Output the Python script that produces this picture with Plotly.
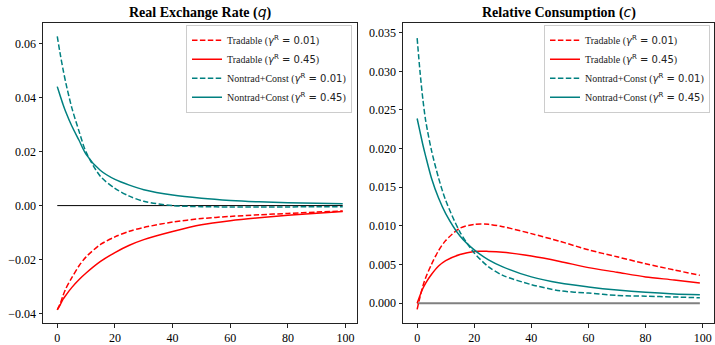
import plotly.graph_objects as go

# ---------------- data ----------------
t_grid = [0, 1, 2, 3, 5, 7.5, 10, 15, 20, 25, 30, 40, 50, 60, 70, 80, 90, 99]

# Real exchange rate (q)
q_trad_001 = [-0.0386, -0.0364, -0.0333, -0.0307, -0.0268, -0.0224, -0.0190, -0.0144, -0.0116,
              -0.0095, -0.0081, -0.0061, -0.0048, -0.0040, -0.0034, -0.0029, -0.0024, -0.0020]
q_trad_045 = [-0.0386, -0.0368, -0.0347, -0.0332, -0.0304, -0.0275, -0.0250, -0.0207, -0.0174,
              -0.0147, -0.0126, -0.0096, -0.0071, -0.0056, -0.0045, -0.0036, -0.0028, -0.0022]
q_nt_001 = [0.0627, 0.0563, 0.0505, 0.0453, 0.0364, 0.0277, 0.0198, 0.0108, 0.0064,
            0.0035, 0.0016, 0.0000, -0.0004, -0.0005, -0.0005, -0.0005, -0.0004, -0.0004]
q_nt_045 = [0.0441, 0.0407, 0.0375, 0.0346, 0.0296, 0.0243, 0.0190, 0.0130, 0.0097,
            0.0076, 0.0059, 0.0039, 0.0027, 0.0019, 0.0014, 0.0011, 0.0009, 0.0007]

# Relative consumption (c)
c_trad_001 = [-0.0008, 0.0008, 0.0022, 0.0033, 0.0050, 0.0068, 0.0081, 0.0097, 0.0102,
              0.0102, 0.0099, 0.0090, 0.0080, 0.0069, 0.0060, 0.0051, 0.0043, 0.0036]
c_trad_045 = [0.0000, 0.0010, 0.0019, 0.0026, 0.0037, 0.0048, 0.0055, 0.0063, 0.0067,
              0.0067, 0.0066, 0.0061, 0.0054, 0.0046, 0.0040, 0.0034, 0.0030, 0.0026]
c_nt_001 = [0.0343, 0.0300, 0.0264, 0.0236, 0.0198, 0.0162, 0.0133, 0.0092, 0.0065,
            0.0047, 0.0036, 0.0024, 0.0016, 0.0013, 0.0010, 0.0009, 0.0008, 0.0007]
c_nt_045 = [0.0239, 0.0222, 0.0205, 0.0190, 0.0162, 0.0136, 0.0116, 0.0087, 0.0069,
            0.0056, 0.0047, 0.0034, 0.0026, 0.0021, 0.0017, 0.0014, 0.0012, 0.0011]

zero_x = [0, 99]
zero_y = [0, 0]

labels = ["Tradable (", "Tradable (", "Nontrad+Const (", "Nontrad+Const ("]
gammas = ["0.01", "0.45", "0.01", "0.45"]

x_ticks = [0, 20, 40, 60, 80, 100]
q_ticks = [-0.04, -0.02, 0.00, 0.02, 0.04, 0.06]
c_ticks = [0.000, 0.005, 0.010, 0.015, 0.020, 0.025, 0.030, 0.035]

# ---------------- style ----------------
RED = "#ff0000"
TEAL = "#008080"
SERIF = "Liberation Serif"
MATH = "DejaVu Sans"
styles = [(RED, "5.5px,2.4px"), (RED, "solid"), (TEAL, "5.5px,2.4px"), (TEAL, "solid")]


def leg_name(lbl, g):
    return (f"{lbl}<span style='font-family:{MATH}'><i>γ</i><sup>R</sup> = {g}</span>)")


fig = go.Figure()

for panel, series, xa, ya, leg in [
    (0, [q_trad_001, q_trad_045, q_nt_001, q_nt_045], "x", "y", "legend"),
    (1, [c_trad_001, c_trad_045, c_nt_001, c_nt_045], "x2", "y2", "legend2"),
]:
    zc, zw = ("#000000", 1.0) if panel == 0 else ("#808080", 2.0)
    fig.add_trace(go.Scatter(x=zero_x, y=zero_y, mode="lines", xaxis=xa, yaxis=ya,
                             line=dict(color=zc, width=zw), showlegend=False, hoverinfo="skip"))
    for i, s in enumerate(series):
        col, dash = styles[i]
        fig.add_trace(go.Scatter(x=t_grid, y=s, mode="lines", xaxis=xa, yaxis=ya,
                                 name=leg_name(labels[i], gammas[i]), legend=leg,
                                 line=dict(color=col, width=1.5, dash=dash, shape="spline",
                                           smoothing=0.8)))

W, H = 715, 345
axis_common = dict(showgrid=False, zeroline=False, showline=True, linecolor="#222222",
                   linewidth=1, mirror=True, ticks="outside", ticklen=3.5, tickwidth=0.8,
                   tickcolor="#222222", tickfont=dict(family=SERIF, size=12, color="#000000"))

leg_common = dict(yanchor="top", xanchor="right", xref="paper",
                  bgcolor="rgba(255,255,255,0.9)", bordercolor="#cccccc", borderwidth=1,
                  font=dict(family=SERIF, size=10, color="#222222"), itemwidth=30,
                  tracegroupgap=0)

fig.update_layout(
    width=W, height=H, margin=dict(l=0, r=0, t=0, b=0),
    plot_bgcolor="white", paper_bgcolor="white",
    xaxis=dict(domain=[43 / W, 357 / W], range=[-4.95, 103.95], tickvals=x_ticks,
               anchor="y", **axis_common),
    yaxis=dict(domain=[1 - 328 / H, 1 - 23 / H], range=[-0.0436, 0.0678], tickvals=q_ticks,
               tickformat=".2f", anchor="x", **axis_common),
    xaxis2=dict(domain=[403 / W, 714 / W], range=[-4.95, 103.95], tickvals=x_ticks,
                anchor="y2", **axis_common),
    yaxis2=dict(domain=[1 - 328 / H, 1 - 23 / H], range=[-0.0026, 0.0363], tickvals=c_ticks,
                tickformat=".3f", anchor="x2", **axis_common),
    legend=dict(x=352 / W, y=1 - 25 / H, **leg_common),
    legend2=dict(x=710 / W, y=1 - 25 / H, **leg_common),
    showlegend=True,
)

titles = [("Real Exchange Rate (", "q", (43 + 357) / 2 / W),
          ("Relative Consumption (", "c", (403 + 714) / 2 / W)]
for txt, sym, xc in titles:
    fig.add_annotation(
        text=f"<b>{txt}</b><span style='font-family:{MATH}'><i>{sym}</i></span><b>)</b>",
        x=xc, y=1 - 13 / H, xref="paper", yref="paper", showarrow=False,
        xanchor="center", yanchor="middle",
        font=dict(family=SERIF, size=14, color="#000000"))

fig.write_html("out.html")
